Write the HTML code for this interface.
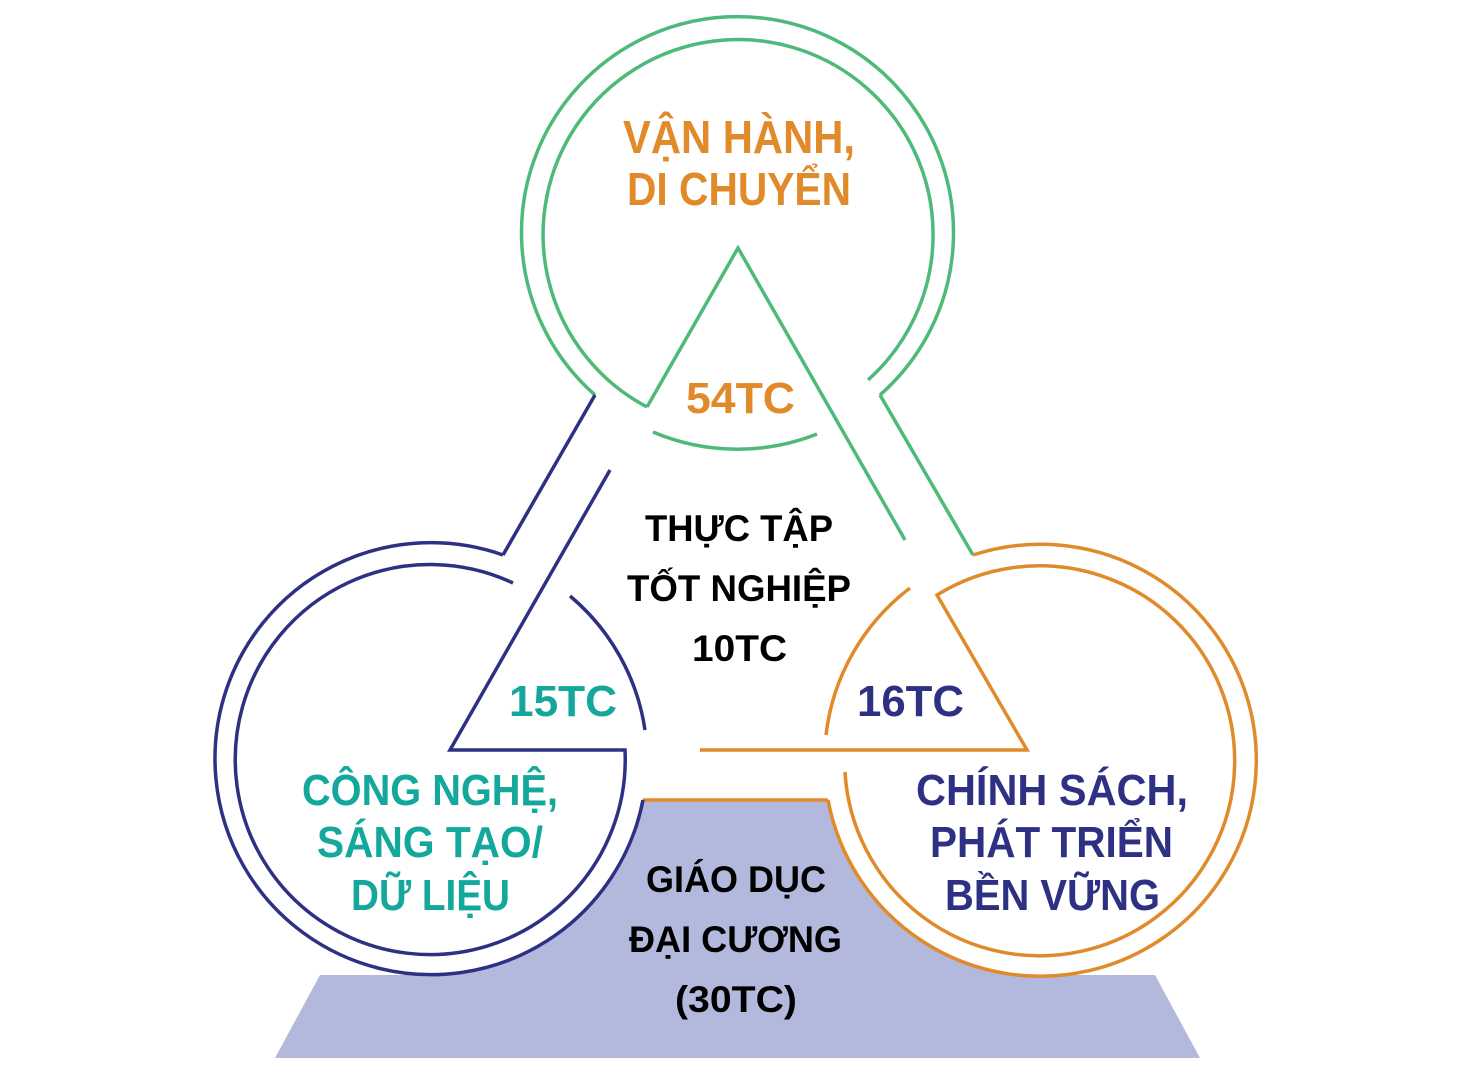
<!DOCTYPE html>
<html><head><meta charset="utf-8"><style>
html,body{margin:0;padding:0;background:#fff;}
svg{display:block;}
text{font-family:"Liberation Sans","DejaVu Sans",sans-serif;font-weight:bold;}
</style></head><body>
<svg width="1475" height="1076" viewBox="0 0 1475 1076" xmlns="http://www.w3.org/2000/svg">
<polygon points="643,800 828,800 1040,975 1155,975 1200,1058 275,1058 320,975 431,975" fill="#b3b9dc"/>
<circle cx="431" cy="760" r="216" fill="#fff"/>
<circle cx="1040" cy="760" r="216" fill="#fff"/>
<line x1="643" y1="800" x2="828" y2="800" stroke="#e08a2a" stroke-width="3.5"/>

<g fill="none" stroke-width="3.5">
<g stroke="#4dba7a">
<path d="M647,407 A195,195 0 1 1 868,380"/>
<path d="M595,395 A216,216 0 1 1 880,395"/>
<path d="M653,432 A216,216 0 0 0 817,434"/>
<polyline points="647,407 738,248 905,540"/>
<line x1="880" y1="395" x2="973" y2="555"/>
</g>
<g stroke="#2e3183">
<line x1="595" y1="395" x2="503" y2="555"/>
<path d="M513,583 A195,195 0 1 0 625,750 L450,750 L610,470"/>
<path d="M503,555 A216,216 0 1 0 643,800"/>
<path d="M570,596 A216,216 0 0 1 645,730"/>
</g>
<g stroke="#e08a2a">
<path d="M845,772 A195,195 0 1 0 937,595 L1027,750 L700,750"/>
<path d="M973,555 A216,216 0 1 1 828,800"/>
<path d="M910,588 A216,216 0 0 0 826,735"/>
</g>
</g>

<g text-anchor="start">
<text x="623" y="153" font-size="46" fill="#e08a2a" textLength="232" lengthAdjust="spacingAndGlyphs">VẬN HÀNH,</text>
<text x="627" y="205" font-size="46" fill="#e08a2a" textLength="224" lengthAdjust="spacingAndGlyphs">DI CHUYỂN</text>
<text x="686" y="413" font-size="44" fill="#e08a2a" textLength="109" lengthAdjust="spacingAndGlyphs">54TC</text>
<text x="645" y="541" font-size="37" fill="#000" textLength="188" lengthAdjust="spacingAndGlyphs">THỰC TẬP</text>
<text x="627" y="601" font-size="37" fill="#000" textLength="224" lengthAdjust="spacingAndGlyphs">TỐT NGHIỆP</text>
<text x="692" y="661" font-size="37" fill="#000" textLength="95" lengthAdjust="spacingAndGlyphs">10TC</text>
<text x="509" y="716" font-size="44" fill="#13a89b" textLength="108" lengthAdjust="spacingAndGlyphs">15TC</text>
<text x="857" y="716" font-size="44" fill="#2e3183" textLength="107" lengthAdjust="spacingAndGlyphs">16TC</text>
<text x="302" y="805" font-size="44" fill="#13a89b" textLength="256" lengthAdjust="spacingAndGlyphs">CÔNG NGHỆ,</text>
<text x="317" y="857" font-size="44" fill="#13a89b" textLength="226" lengthAdjust="spacingAndGlyphs">SÁNG TẠO/</text>
<text x="351" y="910" font-size="44" fill="#13a89b" textLength="159" lengthAdjust="spacingAndGlyphs">DỮ LIỆU</text>
<text x="916" y="805" font-size="44" fill="#2e3183" textLength="272" lengthAdjust="spacingAndGlyphs">CHÍNH SÁCH,</text>
<text x="930" y="857" font-size="44" fill="#2e3183" textLength="243" lengthAdjust="spacingAndGlyphs">PHÁT TRIỂN</text>
<text x="945" y="910" font-size="44" fill="#2e3183" textLength="215" lengthAdjust="spacingAndGlyphs">BỀN VỮNG</text>
<text x="646" y="892" font-size="37" fill="#000" textLength="180" lengthAdjust="spacingAndGlyphs">GIÁO DỤC</text>
<text x="629" y="952" font-size="37" fill="#000" textLength="213" lengthAdjust="spacingAndGlyphs">ĐẠI CƯƠNG</text>
<text x="675" y="1012" font-size="37" fill="#000" textLength="122" lengthAdjust="spacingAndGlyphs">(30TC)</text>
</g>
</svg>
</body></html>
